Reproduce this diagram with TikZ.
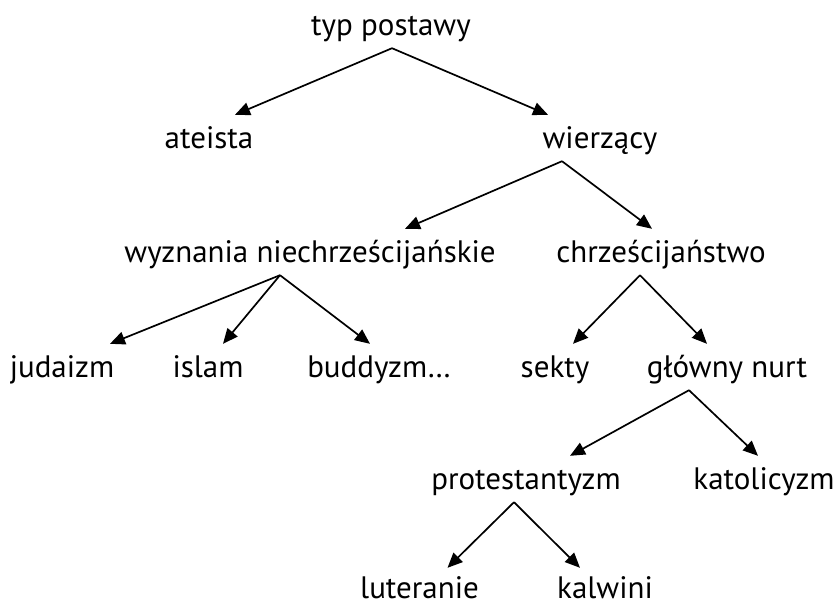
\documentclass[tikz,border=0pt]{standalone}
\usepackage{fontspec}
\setmainfont{PT Sans}
\usetikzlibrary{arrows.meta}
\begin{document}
\begin{tikzpicture}[x=1pt,y=1pt,
  lbl/.style={anchor=base,inner sep=0pt,text height=33pt,text depth=13pt,font=\fontsize{31}{37}\selectfont},
  arr/.style={line width=1.7pt,-{Triangle[length=15pt,width=13pt]}}]
\useasboundingbox (0,0) rectangle (838,-606);
\node[lbl] (top) at (391,-35) {typ postawy};
\node[lbl] (ate) at (209,-148) {ateista};
\node[lbl] (wie) at (600,-148) {wierzący};
\node[lbl] (wyz) at (310,-262) {wyznania niechrześcijańskie};
\node[lbl] (chr) at (661,-262) {chrześcijaństwo};
\node[lbl] (jud) at (62,-377) {judaizm};
\node[lbl] (isl) at (208,-377) {islam};
\node[lbl] (bud) at (379,-377) {buddyzm…};
\node[lbl] (sek) at (555,-377) {sekty};
\node[lbl] (glo) at (727,-377) {główny nurt};
\node[lbl] (pro) at (526,-489) {protestantyzm};
\node[lbl] (kat) at (764,-489) {katolicyzm};
\node[lbl] (lut) at (419.5,-598) {luteranie};
\node[lbl] (kal) at (605,-598) {kalwini};
\draw[arr] ([xshift=1pt]top.south) -- ([xshift=26pt]ate.north);
\draw[arr] ([xshift=1pt]top.south) -- ([xshift=-52pt]wie.north);
\draw[arr] ([xshift=-38pt]wie.south) -- ([xshift=95pt]wyz.north);
\draw[arr] ([xshift=-38pt]wie.south) -- ([xshift=-9pt]chr.north);
\draw[arr] ([xshift=-30pt]wyz.south) -- ([xshift=48pt]jud.north);
\draw[arr] ([xshift=-30pt]wyz.south) -- ([xshift=15pt]isl.north);
\draw[arr] ([xshift=-30pt]wyz.south) -- ([xshift=-9pt]bud.north);
\draw[arr] ([xshift=-21pt]chr.south) -- ([xshift=18pt]sek.north);
\draw[arr] ([xshift=-21pt]chr.south) -- ([xshift=-20pt]glo.north);
\draw[arr] ([xshift=-38pt]glo.south) -- ([xshift=44pt]pro.north);
\draw[arr] ([xshift=-38pt]glo.south) -- ([xshift=-6pt]kat.north);
\draw[arr] ([xshift=-12pt]pro.south) -- ([xshift=28pt,yshift=-3pt]lut.north);
\draw[arr] ([xshift=-12pt]pro.south) -- ([xshift=-25pt,yshift=-3pt]kal.north);
\end{tikzpicture}
\end{document}
